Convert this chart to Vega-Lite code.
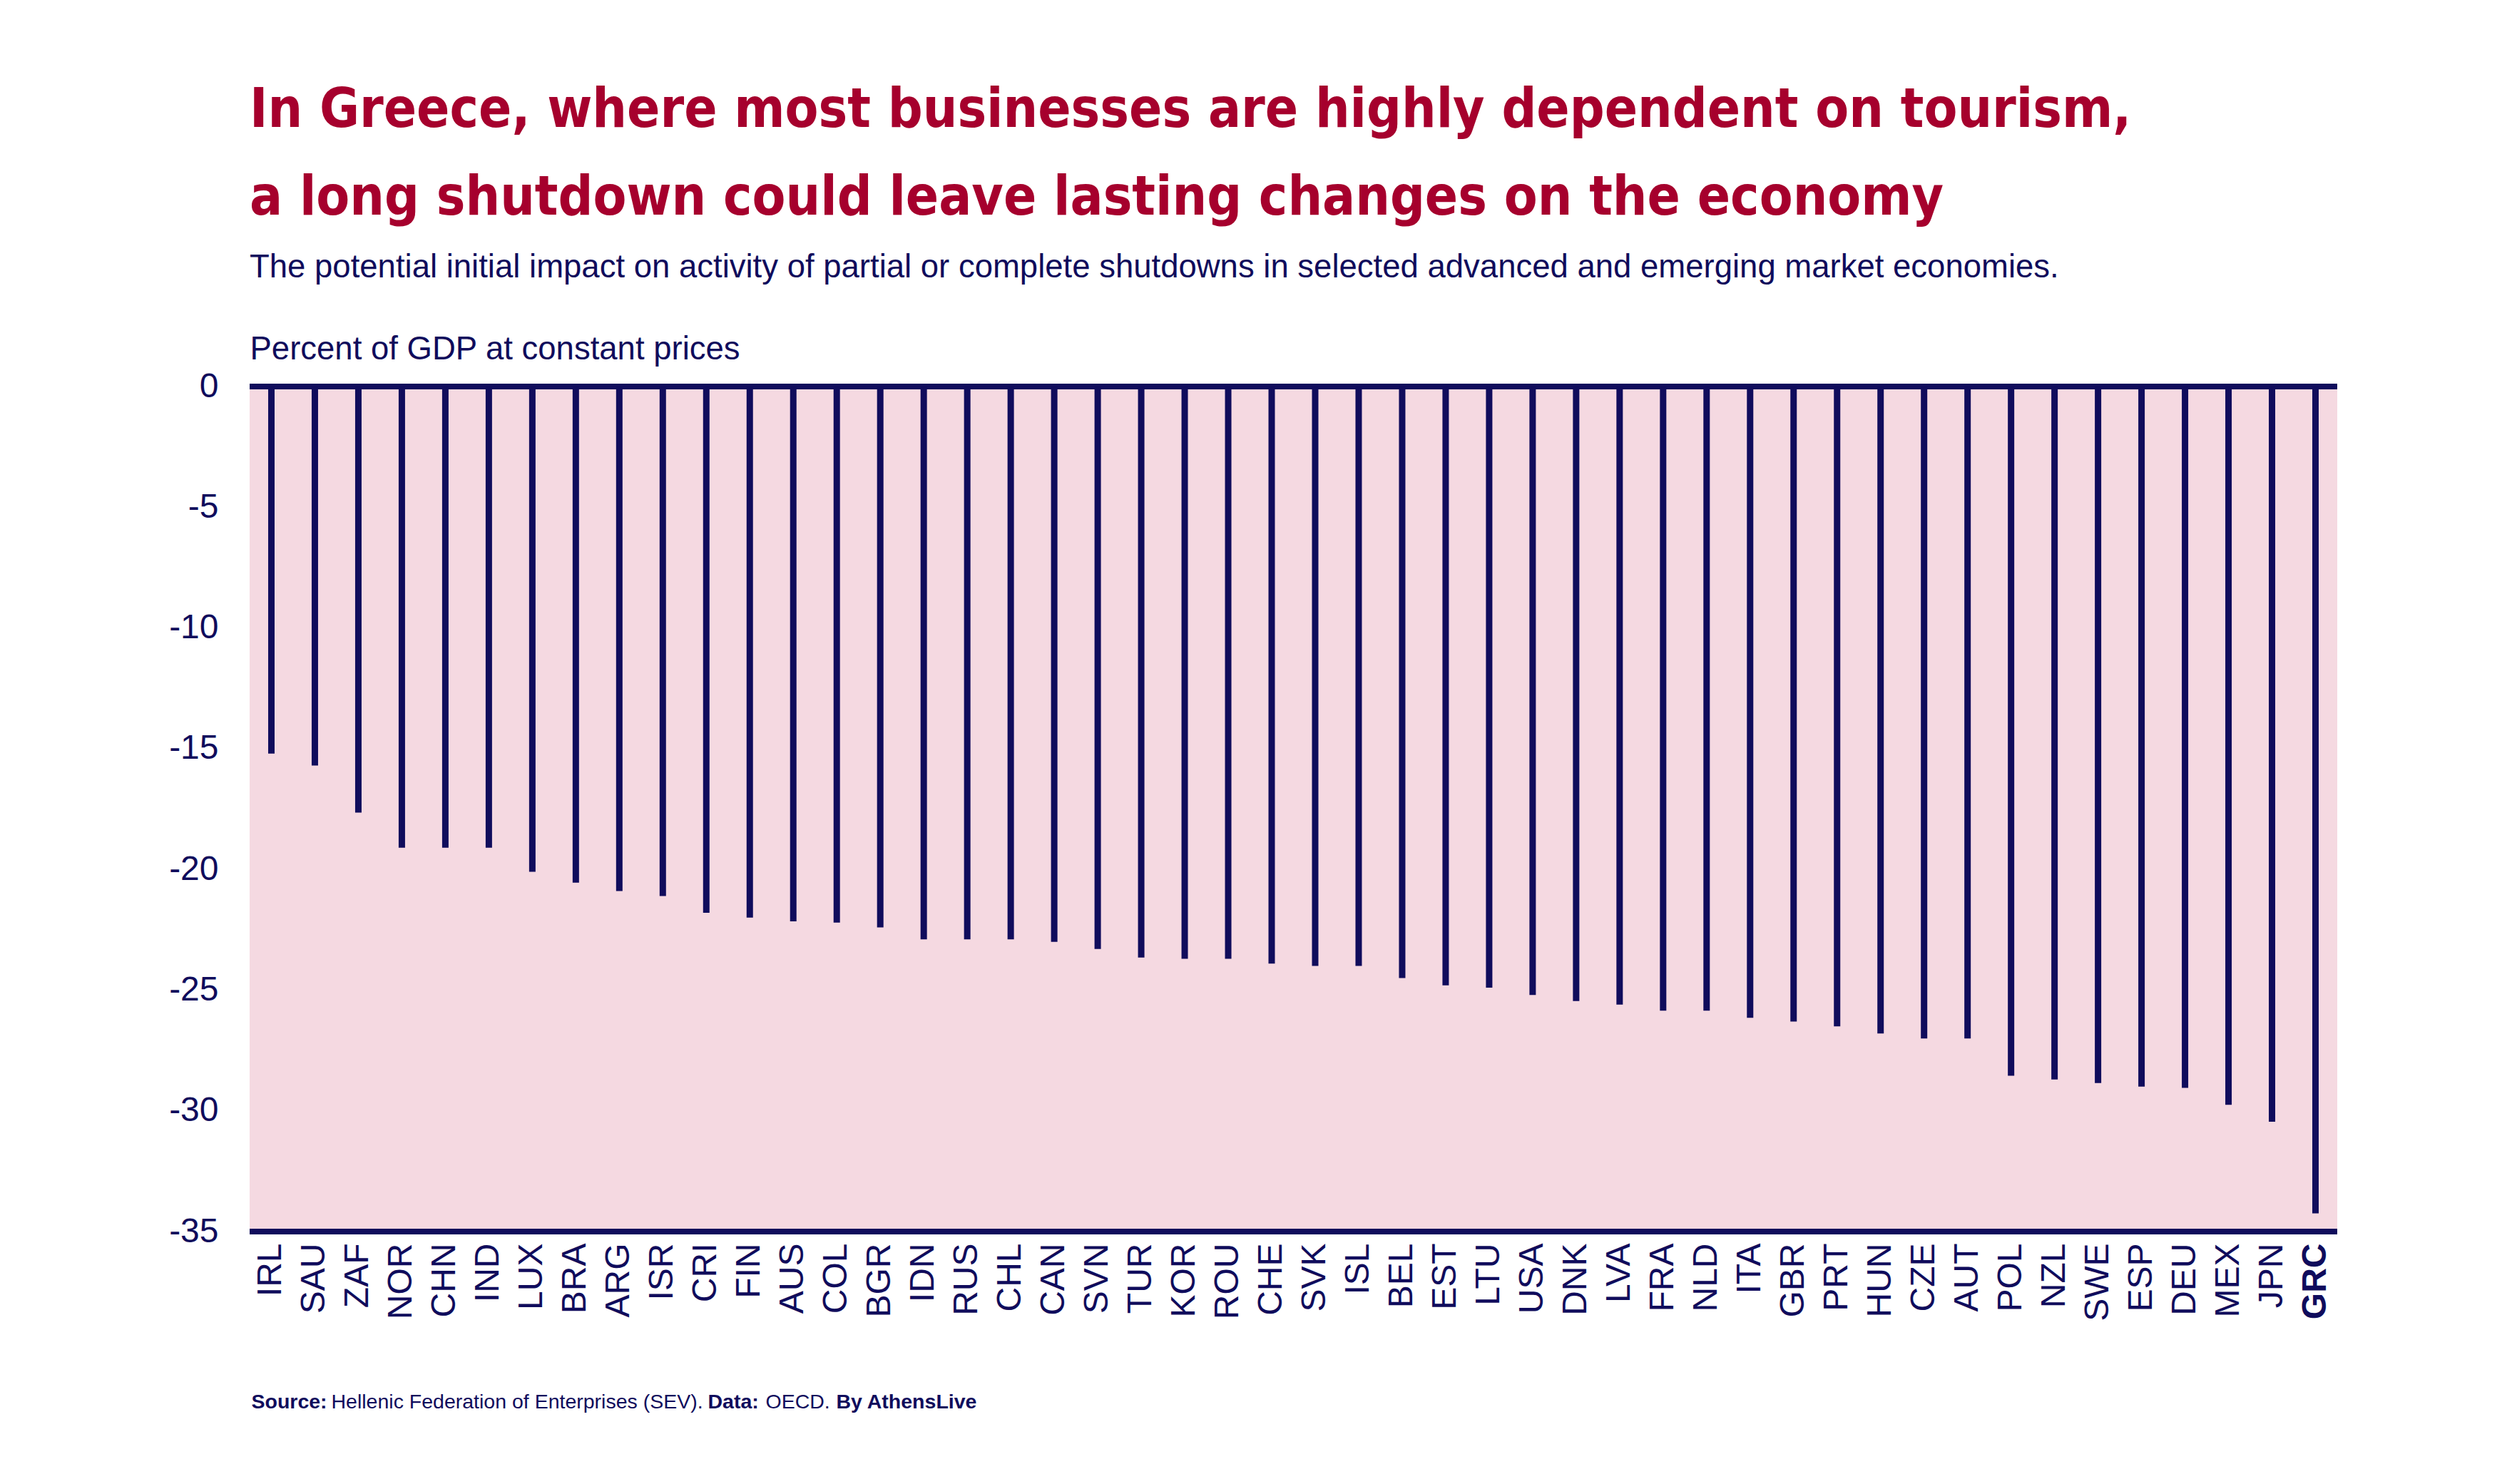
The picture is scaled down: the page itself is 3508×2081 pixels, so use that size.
{
  "$schema": "https://vega.github.io/schema/vega-lite/v6.json",
  "width": 2927,
  "height": 1185,
  "autosize": {"type": "none"},
  "padding": {"left": 350, "top": 542, "right": 231, "bottom": 354},
  "background": "white",
  "config": {"view": {"fill": "#F5D9E1", "stroke": null}},
  "title": {
    "text": ["In Greece, where most businesses are highly dependent on tourism,", "a long shutdown could leave lasting changes on the economy"],
    "anchor": "start",
    "frame": "group",
    "font": "DejaVu Sans Condensed, Liberation Sans Narrow, sans-serif",
    "fontSize": 76,
    "fontWeight": "bold",
    "color": "#A6002D",
    "lineHeight": 123,
    "subtitle": "The potential initial impact on activity of partial or complete shutdowns in selected advanced and emerging market economies.",
    "subtitleFont": "Liberation Sans",
    "subtitleFontSize": 45.5,
    "subtitleColor": "#100C5C",
    "subtitlePadding": 36,
    "offset": 68
  },
  "data": {
    "values": [
      {"country": "IRL", "value": -15.2},
      {"country": "SAU", "value": -15.7},
      {"country": "ZAF", "value": -17.65},
      {"country": "NOR", "value": -19.1},
      {"country": "CHN", "value": -19.1},
      {"country": "IND", "value": -19.1},
      {"country": "LUX", "value": -20.1},
      {"country": "BRA", "value": -20.55},
      {"country": "ARG", "value": -20.9},
      {"country": "ISR", "value": -21.1},
      {"country": "CRI", "value": -21.8},
      {"country": "FIN", "value": -22.0},
      {"country": "AUS", "value": -22.15},
      {"country": "COL", "value": -22.2},
      {"country": "BGR", "value": -22.4},
      {"country": "IDN", "value": -22.9},
      {"country": "RUS", "value": -22.9},
      {"country": "CHL", "value": -22.9},
      {"country": "CAN", "value": -23.0},
      {"country": "SVN", "value": -23.3},
      {"country": "TUR", "value": -23.65},
      {"country": "KOR", "value": -23.7},
      {"country": "ROU", "value": -23.7},
      {"country": "CHE", "value": -23.9},
      {"country": "SVK", "value": -24.0},
      {"country": "ISL", "value": -24.0},
      {"country": "BEL", "value": -24.5},
      {"country": "EST", "value": -24.8},
      {"country": "LTU", "value": -24.9},
      {"country": "USA", "value": -25.2},
      {"country": "DNK", "value": -25.45},
      {"country": "LVA", "value": -25.6},
      {"country": "FRA", "value": -25.85},
      {"country": "NLD", "value": -25.85},
      {"country": "ITA", "value": -26.15},
      {"country": "GBR", "value": -26.3},
      {"country": "PRT", "value": -26.5},
      {"country": "HUN", "value": -26.8},
      {"country": "CZE", "value": -27.0},
      {"country": "AUT", "value": -27.0},
      {"country": "POL", "value": -28.55},
      {"country": "NZL", "value": -28.7},
      {"country": "SWE", "value": -28.85},
      {"country": "ESP", "value": -29.0},
      {"country": "DEU", "value": -29.05},
      {"country": "MEX", "value": -29.75},
      {"country": "JPN", "value": -30.45},
      {"country": "GRC", "value": -34.25}
    ]
  },
  "layer": [
    {
      "mark": {"type": "rule", "strokeWidth": 9, "color": "#100C5C", "strokeCap": "butt"},
      "encoding": {
        "x": {
          "field": "country", "type": "nominal", "sort": null,
          "axis": {
            "orient": "bottom",
            "labelAngle": -90,
            "labelFont": "Liberation Sans",
            "labelFontSize": 48,
            "labelColor": "#100C5C",
            "labelFontWeight": {"condition": {"test": "datum.value == 'GRC'", "value": "bold"}, "value": "normal"},
            "labelPadding": 16,
            "ticks": false,
            "domain": false,
            "grid": false,
            "title": "Source:",
            "titleFont": "Liberation Sans",
            "titleFontSize": 28.5,
            "titleFontWeight": "bold",
            "titleColor": "#100C5C",
            "titleAnchor": "start",
            "titleAlign": "left",
            "titleBaseline": "alphabetic",
            "titleX": 2,
            "titleY": 247
          }
        },
        "y": {
          "field": "value", "type": "quantitative",
          "scale": {"domain": [-35, 0], "nice": false, "zero": false},
          "axis": {
            "values": [0, -5, -10, -15, -20, -25, -30, -35],
            "labelExpr": "'' + datum.value",
            "labelFont": "Liberation Sans",
            "labelFontSize": 48,
            "labelColor": "#100C5C",
            "labelPadding": 44,
            "ticks": false,
            "domain": false,
            "grid": false,
            "title": "Percent of GDP at constant prices",
            "titleFont": "Liberation Sans",
            "titleFontSize": 45.5,
            "titleFontWeight": "normal",
            "titleColor": "#100C5C",
            "titleAngle": 0,
            "titleAlign": "left",
            "titleBaseline": "alphabetic",
            "titleX": 0,
            "titleY": -39
          }
        },
        "y2": {"datum": 0}
      }
    },
    {
      "data": {"values": [{"v": 0}, {"v": -35}]},
      "mark": {"type": "rule", "strokeWidth": 8, "color": "#100C5C"},
      "encoding": {"y": {"field": "v", "type": "quantitative"}}
    },
    {
      "mark": {"type": "rule", "opacity": 0},
      "encoding": {
        "x": {"field": "country", "type": "nominal", "sort": null,
          "axis": {"orient": "bottom", "labels": false, "ticks": false, "domain": false, "grid": false,
            "title": "Hellenic Federation of Enterprises (SEV).", "titleFont": "Liberation Sans", "titleFontSize": 28.5, "titleFontWeight": "normal", "titleColor": "#100C5C",
            "titleAnchor": "start", "titleAlign": "left", "titleBaseline": "alphabetic", "titleX": 114, "titleY": 247}}
      }
    },
    {
      "mark": {"type": "rule", "opacity": 0},
      "encoding": {
        "x": {"field": "country", "type": "nominal", "sort": null,
          "axis": {"orient": "bottom", "labels": false, "ticks": false, "domain": false, "grid": false,
            "title": "Data:", "titleFont": "Liberation Sans", "titleFontSize": 28.5, "titleFontWeight": "bold", "titleColor": "#100C5C",
            "titleAnchor": "start", "titleAlign": "left", "titleBaseline": "alphabetic", "titleX": 642, "titleY": 247}}
      }
    },
    {
      "mark": {"type": "rule", "opacity": 0},
      "encoding": {
        "x": {"field": "country", "type": "nominal", "sort": null,
          "axis": {"orient": "bottom", "labels": false, "ticks": false, "domain": false, "grid": false,
            "title": "OECD.", "titleFont": "Liberation Sans", "titleFontSize": 28.5, "titleFontWeight": "normal", "titleColor": "#100C5C",
            "titleAnchor": "start", "titleAlign": "left", "titleBaseline": "alphabetic", "titleX": 723, "titleY": 247}}
      }
    },
    {
      "mark": {"type": "rule", "opacity": 0},
      "encoding": {
        "x": {"field": "country", "type": "nominal", "sort": null,
          "axis": {"orient": "bottom", "labels": false, "ticks": false, "domain": false, "grid": false,
            "title": "By AthensLive", "titleFont": "Liberation Sans", "titleFontSize": 28.5, "titleFontWeight": "bold", "titleColor": "#100C5C",
            "titleAnchor": "start", "titleAlign": "left", "titleBaseline": "alphabetic", "titleX": 822, "titleY": 247}}
      }
    }
  ],
  "resolve": {"axis": {"x": "independent"}}
}
